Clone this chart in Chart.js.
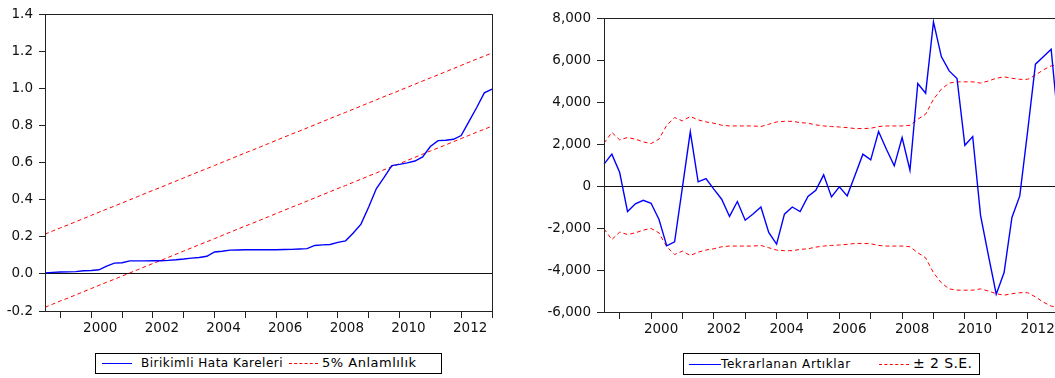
<!DOCTYPE html>
<html>
<head>
<meta charset="utf-8">
<script src="https://cdn.jsdelivr.net/npm/chart.js@4.4.1/dist/chart.umd.min.js"></script>
<style>
  html, body { margin: 0; padding: 0; background: #fff; overflow: hidden; width: 1055px; height: 378px; }
  .wrap { position: absolute; }
  .legend { position: absolute; border: 1px solid #000; box-sizing: border-box; background: #fff;
            font-family: "DejaVu Sans", Verdana, sans-serif; color: #000; }
  .legend span { position: absolute; white-space: nowrap; }
  .legend i { position: absolute; display: block; height: 0; }
</style>
</head>
<body>
<div class="wrap" style="left:0px;top:0px;width:500px;height:340px;"><canvas id="c1" width="500" height="340"></canvas></div>
<div class="wrap" style="left:530px;top:0px;width:530px;height:340px;"><canvas id="c2" width="530" height="340"></canvas></div>

<div class="legend" style="left:95px;top:353px;width:347px;height:21px;">
  <i style="left:6px;top:9px;width:30px;border-top:1.5px solid #0000ff;"></i>
  <span style="left:45px;top:2px;font-size:12px;letter-spacing:0.5px;">Birikimli Hata Kareleri</span>
  <i style="left:193px;top:9px;width:29px;border-top:1px dashed #ff0000;"></i>
  <span style="left:226px;top:1px;font-size:13px;letter-spacing:0.5px;">5% Anlamlılık</span>
</div>
<div class="legend" style="left:683px;top:353px;width:297px;height:22px;">
  <i style="left:5px;top:10px;width:32px;border-top:1.5px solid #0000ff;"></i>
  <span style="left:37px;top:3px;font-size:12px;letter-spacing:0.6px;">Tekrarlanan Artıklar</span>
  <i style="left:195px;top:10px;width:30px;border-top:1px dashed #ff0000;"></i>
  <span style="left:229px;top:1px;font-size:14px;letter-spacing:0.4px;">± 2 S.E.</span>
</div>

<script>
// ---- categories (quarters) ----
const categories = [
  "1998Q3","1998Q4",
  "1999Q1","1999Q2","1999Q3","1999Q4",
  "2000Q1","2000Q2","2000Q3","2000Q4",
  "2001Q1","2001Q2","2001Q3","2001Q4",
  "2002Q1","2002Q2","2002Q3","2002Q4",
  "2003Q1","2003Q2","2003Q3","2003Q4",
  "2004Q1","2004Q2","2004Q3","2004Q4",
  "2005Q1","2005Q2","2005Q3","2005Q4",
  "2006Q1","2006Q2","2006Q3","2006Q4",
  "2007Q1","2007Q2","2007Q3","2007Q4",
  "2008Q1","2008Q2","2008Q3","2008Q4",
  "2009Q1","2009Q2","2009Q3","2009Q4",
  "2010Q1","2010Q2","2010Q3","2010Q4",
  "2011Q1","2011Q2","2011Q3","2011Q4",
  "2012Q1","2012Q2","2012Q3","2012Q4",
  "2013Q1"
];

// ---- left chart: CUSUM of squares ----
const cusumSq = [
  0.005,0.008,0.010,0.011,0.012,0.017,0.018,0.022,0.042,0.058,
  0.060,0.070,0.070,0.070,0.071,0.071,0.073,0.076,0.080,0.085,
  0.088,0.095,0.118,0.122,0.128,0.129,0.130,0.130,0.130,0.130,
  0.130,0.131,0.132,0.134,0.136,0.153,0.156,0.158,0.170,0.178,
  0.220,0.268,0.360,0.460,0.520,0.583,0.590,0.598,0.608,0.630,
  0.686,0.718,0.720,0.725,0.745,0.820,0.895,0.975,0.995
];
const cusumUpper = [
  0.214,0.231,0.248,0.264,0.281,0.298,0.315,0.332,0.349,0.365,
  0.382,0.399,0.416,0.433,0.450,0.466,0.483,0.500,0.517,0.534,
  0.551,0.567,0.584,0.601,0.618,0.635,0.652,0.668,0.685,0.702,
  0.719,0.736,0.753,0.769,0.786,0.803,0.820,0.837,0.854,0.870,
  0.887,0.904,0.921,0.938,0.955,0.971,0.988,1.005,1.022,1.039,
  1.056,1.072,1.089,1.106,1.123,1.140,1.157,1.173,1.190
];
const cusumLower = [
  -0.180,-0.163,-0.146,-0.130,-0.113,-0.096,-0.079,-0.062,-0.045,-0.029,
  -0.012,0.005,0.022,0.039,0.056,0.072,0.089,0.106,0.123,0.140,
  0.157,0.173,0.190,0.207,0.224,0.241,0.258,0.274,0.291,0.308,
  0.325,0.342,0.359,0.375,0.392,0.409,0.426,0.443,0.460,0.476,
  0.493,0.510,0.527,0.544,0.561,0.577,0.594,0.611,0.628,0.645,
  0.662,0.678,0.695,0.712,0.729,0.746,0.763,0.779,0.796
];

// ---- right chart: recursive residuals ----
const residuals = [
  1040,1515,640,-1215,-850,-680,-820,-1580,-2850,-2660,
  -50,2580,200,355,-150,-630,-1450,-740,-1630,-1330,
  -1000,-2215,-2770,-1340,-1000,-1215,-500,-200,530,-520,
  -40,-470,515,1515,1245,2595,1750,960,2310,750,
  4880,4420,7815,6165,5480,5120,1940,2355,-1400,-3300,
  -5150,-4120,-1500,-470,2600,5800,6150,6515,2600
];
const seUpper = [
  2040,2550,2195,2310,2230,2100,2020,2230,2895,3260,
  3100,3310,3150,3050,2990,2895,2860,2860,2860,2860,
  2830,2940,3050,3080,3080,3020,2990,2910,2860,2830,
  2810,2780,2735,2735,2750,2830,2860,2860,2860,2890,
  3180,3420,4130,4610,4900,4960,4960,4960,4900,5000,
  5130,5200,5130,5080,5080,5280,5530,5720,5800
];
const seLower = [
  -2040,-2550,-2195,-2310,-2230,-2100,-2020,-2230,-2895,-3260,
  -3100,-3310,-3150,-3050,-2990,-2895,-2860,-2860,-2860,-2860,
  -2830,-2940,-3050,-3080,-3080,-3020,-2990,-2910,-2860,-2830,
  -2810,-2780,-2735,-2735,-2750,-2830,-2860,-2860,-2860,-2890,
  -3180,-3420,-4130,-4610,-4900,-4960,-4960,-4960,-4900,-5000,
  -5130,-5200,-5130,-5080,-5080,-5280,-5530,-5720,-5800
];

// ---- tick labels ----
const yTicksLeft = [-0.2, 0.0, 0.2, 0.4, 0.6, 0.8, 1.0, 1.2, 1.4];
const yTicksRight = [-6000, -4000, -2000, 0, 2000, 4000, 6000, 8000];
const yearLabels = ["2000","2002","2004","2006","2008","2010","2012"];

const FONT = { family: "'DejaVu Sans', Verdana, sans-serif", size: 13.5 };
const TEXT = '#111';

const framePlugin = {
  id: 'frame',
  afterDatasetsDraw(chart) {
    const a = chart.chartArea, ctx = chart.ctx;
    ctx.save();
    ctx.strokeStyle = '#222';
    ctx.lineWidth = 1;
    ctx.strokeRect(Math.round(a.left) + 0.5, Math.round(a.top) + 0.5,
                   Math.round(a.right - a.left), Math.round(a.bottom - a.top));
    ctx.restore();
  }
};

function isQ1(idx) { return categories[idx] && categories[idx].endsWith('Q1'); }

function makeX(height, tickLen, offset) {
  return {
    type: 'category',
    offset: false,
    border: { display: false },
    grid: {
      offset: false,
      drawOnChartArea: false,
      drawTicks: true,
      tickLength: tickLen,
      tickColor: (c) => isQ1(c.index) ? '#222' : 'rgba(0,0,0,0)',
      color: 'rgba(0,0,0,0)'
    },
    ticks: {
      autoSkip: false, maxRotation: 0, minRotation: 0,
      padding: 2, labelOffset: offset,
      color: TEXT, font: FONT,
      callback: function (v, i) {
        const lab = categories[i];
        const yr = lab.slice(0, 4);
        return (lab.endsWith('Q1') && yearLabels.includes(yr)) ? yr : '';
      }
    },
    afterFit(s) { s.height = height; s.paddingLeft = 0; s.paddingRight = 0; }
  };
}

function makeY(width, tickLen, ticksArr, fmt, min, max) {
  return {
    type: 'linear', min: min, max: max,
    border: { display: false },
    afterBuildTicks(s) { s.ticks = ticksArr.map(v => ({ value: v })); },
    grid: {
      drawOnChartArea: true,
      tickLength: tickLen,
      tickColor: '#222',
      color: (c) => (c.tick && Math.abs(c.tick.value) < 1e-9) ? '#111' : 'rgba(0,0,0,0)',
      lineWidth: 1
    },
    ticks: { padding: 6, color: TEXT, font: FONT, callback: fmt },
    afterFit(s) { s.width = width; s.paddingTop = 0; s.paddingBottom = 0; }
  };
}

const blue = { borderColor: '#0000ff', borderWidth: 1.4, pointRadius: 0, tension: 0, fill: false };
const red = { borderColor: '#ff0000', borderWidth: 1, borderDash: [4, 3], pointRadius: 0, tension: 0, fill: false };

new Chart(document.getElementById('c1'), {
  type: 'line',
  data: {
    labels: categories,
    datasets: [
      Object.assign({ label: 'Birikimli Hata Kareleri', data: cusumSq }, blue),
      Object.assign({ label: '5% Anlamlılık', data: cusumUpper }, red),
      Object.assign({ label: '5% Anlamlılık (alt)', data: cusumLower }, red)
    ]
  },
  options: {
    responsive: false, animation: false, devicePixelRatio: 1,
    layout: { padding: { left: 0, top: 14, right: 8, bottom: 0 } },
    plugins: { legend: { display: false }, tooltip: { enabled: false } },
    scales: {
      x: makeX(29, 7, 9),
      y: makeY(45, 6, yTicksLeft, (v) => Number(v).toFixed(1), -0.2, 1.4)
    }
  },
  plugins: [framePlugin]
});

new Chart(document.getElementById('c2'), {
  type: 'line',
  data: {
    labels: categories,
    datasets: [
      Object.assign({ label: 'Tekrarlanan Artıklar', data: residuals }, blue),
      Object.assign({ label: '± 2 S.E.', data: seUpper }, red),
      Object.assign({ label: '± 2 S.E. (alt)', data: seLower }, red)
    ]
  },
  options: {
    responsive: false, animation: false, devicePixelRatio: 1,
    layout: { padding: { left: 0, top: 18, right: 1, bottom: 0 } },
    plugins: { legend: { display: false }, tooltip: { enabled: false } },
    scales: {
      x: makeX(28, 7, 10),
      y: makeY(74, 7, yTicksRight, (v) => Number(v).toLocaleString('en-US'), -6000, 8000)
    }
  },
  plugins: [framePlugin]
});
</script>
</body>
</html>
